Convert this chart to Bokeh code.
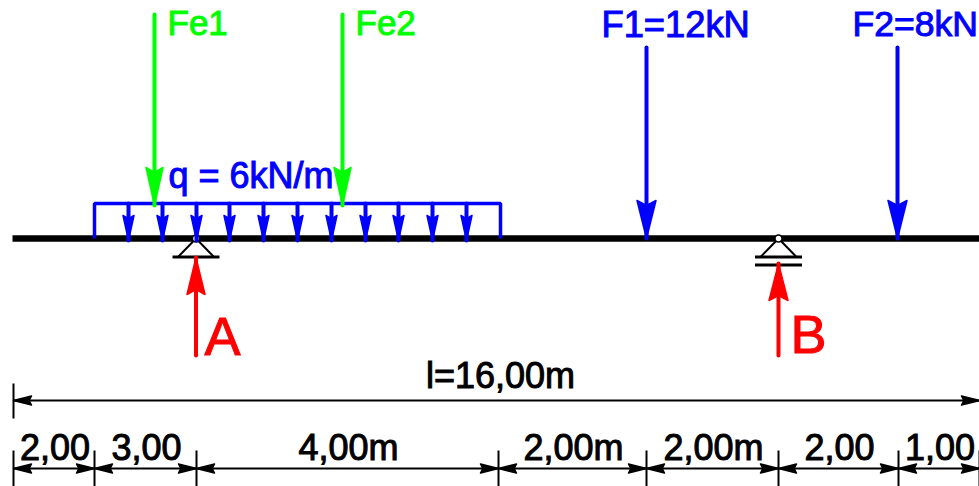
from bokeh.plotting import figure
from bokeh.models import Range1d
from bokeh.core.properties import value
from bokeh.embed import file_html
from bokeh.resources import INLINE

# Diagram geometry (drawing units match the source picture)
BEAM = [12, 979]
BEAM_Y = 238
LOAD_SPAN = [94, 500]
LOAD_TOP = 203
LOAD_ARROWS = [128, 162, 196, 229, 263, 297, 331, 365, 398, 432, 466]
GREEN_X = [154, 342]
GREEN_LABELS = ["Fe1", "Fe2"]
BLUE_X = [646, 897]
BLUE_LABELS = ["F1=12kN", "F2=8kN"]
BLUE_LABEL_X = [601, 852]
BLUE_LABEL_SIZE = [36.3, 35.5]
SUPPORT_X = [195.5, 778]
SUPPORT_LABELS = ["A", "B"]
DIM_TICKS = [13, 94, 196, 498, 646, 778, 898, 979]
DIM_LABELS = ["2,00", "3,00", "4,00m", "2,00m", "2,00m", "2,00", "1,00"]
TOTAL_LABEL = "l=16,00m"
LOAD_LABEL = "q = 6kN/m"

BLUE, GREEN, RED, BLACK = "#0000ff", "#00ff00", "#ff0000", "#000000"
FONT = value("Liberation Sans")

p = figure(width=979, height=486, output_backend="svg", toolbar_location=None,
           x_range=Range1d(0, 979), y_range=Range1d(486, 0), min_border=0)
p.axis.visible = False
p.grid.visible = False
p.outline_line_color = None


def head(x, y, dx, dy, length, half, color):
    """Filled barbed arrow head with tip at (x, y) pointing along (dx, dy)."""
    bx, by = x - dx * length, y - dy * length
    cx, cy = x - dx * length * 0.87, y - dy * length * 0.87
    nx, ny = -dy * half, dx * half
    p.patch([x, bx + nx, cx, bx - nx], [y, by + ny, cy, by - ny],
            color=color, line_color=color, line_width=1.5, line_join="round")


def arrow(x, y0, y1, length, half, width, color):
    p.line([x, x], [y0, y1], line_color=color, line_width=width, line_cap="round")
    head(x, y1, 0, 1 if y1 > y0 else -1, length, half, color)


def label(x, y, text, color, size, align="left"):
    # the text sits about 0.37 em under the anchor in this renderer, so lift it
    y = y - 0.37 * size
    p.text([x], [y], text=[text], text_color=color, text_font=FONT, text_font_size=f"{size}px",
           text_align=align, text_baseline="alphabetic", text_outline_color=color)


# beam
p.line(BEAM, [BEAM_Y, BEAM_Y], line_color=BLACK, line_width=6.5)

# supports
for i, x in enumerate(SUPPORT_X):
    p.line([x - 17.5, x, x + 17.5], [256, BEAM_Y, 256], line_color=BLACK, line_width=2)
    p.line([x - 23.5, x + 23.5], [256.5, 256.5], line_color=BLACK, line_width=3)
    if i == 1:
        p.line([x - 23.5, x + 23.5], [264.5, 264.5], line_color=BLACK, line_width=3)
    p.scatter([x], [BEAM_Y], size=7, marker="circle", fill_color="white", line_color=BLACK, line_width=1.5)

# distributed load
p.line([LOAD_SPAN[0], LOAD_SPAN[0], LOAD_SPAN[1], LOAD_SPAN[1]],
       [BEAM_Y, LOAD_TOP, LOAD_TOP, BEAM_Y], line_color=BLUE, line_width=3.5)
for x in LOAD_ARROWS:
    arrow(x, LOAD_TOP, 240, 25, 5.5, 4, BLUE)

# point loads
for x, t in zip(GREEN_X, GREEN_LABELS):
    arrow(x, 14, 205, 38, 8.5, 4, GREEN)
    label(x + 13, 35, t, GREEN, 35)
for x, lx, t, s in zip(BLUE_X, BLUE_LABEL_X, BLUE_LABELS, BLUE_LABEL_SIZE):
    arrow(x, 47, 238, 38, 9.5, 4, BLUE)
    label(lx, 37, t, BLUE, s)
label(168, 188, LOAD_LABEL, BLUE, 36)

# reactions
arrow(SUPPORT_X[0], 355, 257, 37, 9, 4, RED)
arrow(SUPPORT_X[1], 355, 263, 37, 9.5, 4, RED)
label(204, 355, SUPPORT_LABELS[0], RED, 54)
label(790, 353, SUPPORT_LABELS[1], RED, 54)

# dimension lines
p.line([13, 979], [400, 400], line_color=BLACK, line_width=2)
p.line([13, 13], [383, 418], line_color=BLACK, line_width=2)
head(13, 400, -1, 0, 18, 4.5, BLACK)
head(979, 400, 1, 0, 18, 4.5, BLACK)
label(500, 388, TOTAL_LABEL, BLACK, 36, "center")

p.line([DIM_TICKS[0], DIM_TICKS[-1]], [468, 468], line_color=BLACK, line_width=2)
for x in DIM_TICKS:
    p.line([x, x], [450, 486], line_color=BLACK, line_width=2)
for a, b, t in zip(DIM_TICKS[:-1], DIM_TICKS[1:], DIM_LABELS):
    head(a, 468, -1, 0, 18, 4.5, BLACK)
    head(b, 468, 1, 0, 18, 4.5, BLACK)
    label((a + b) / 2 + 1, 460, t, BLACK, 36, "center")

open("out.html", "w").write(file_html(p, INLINE))
